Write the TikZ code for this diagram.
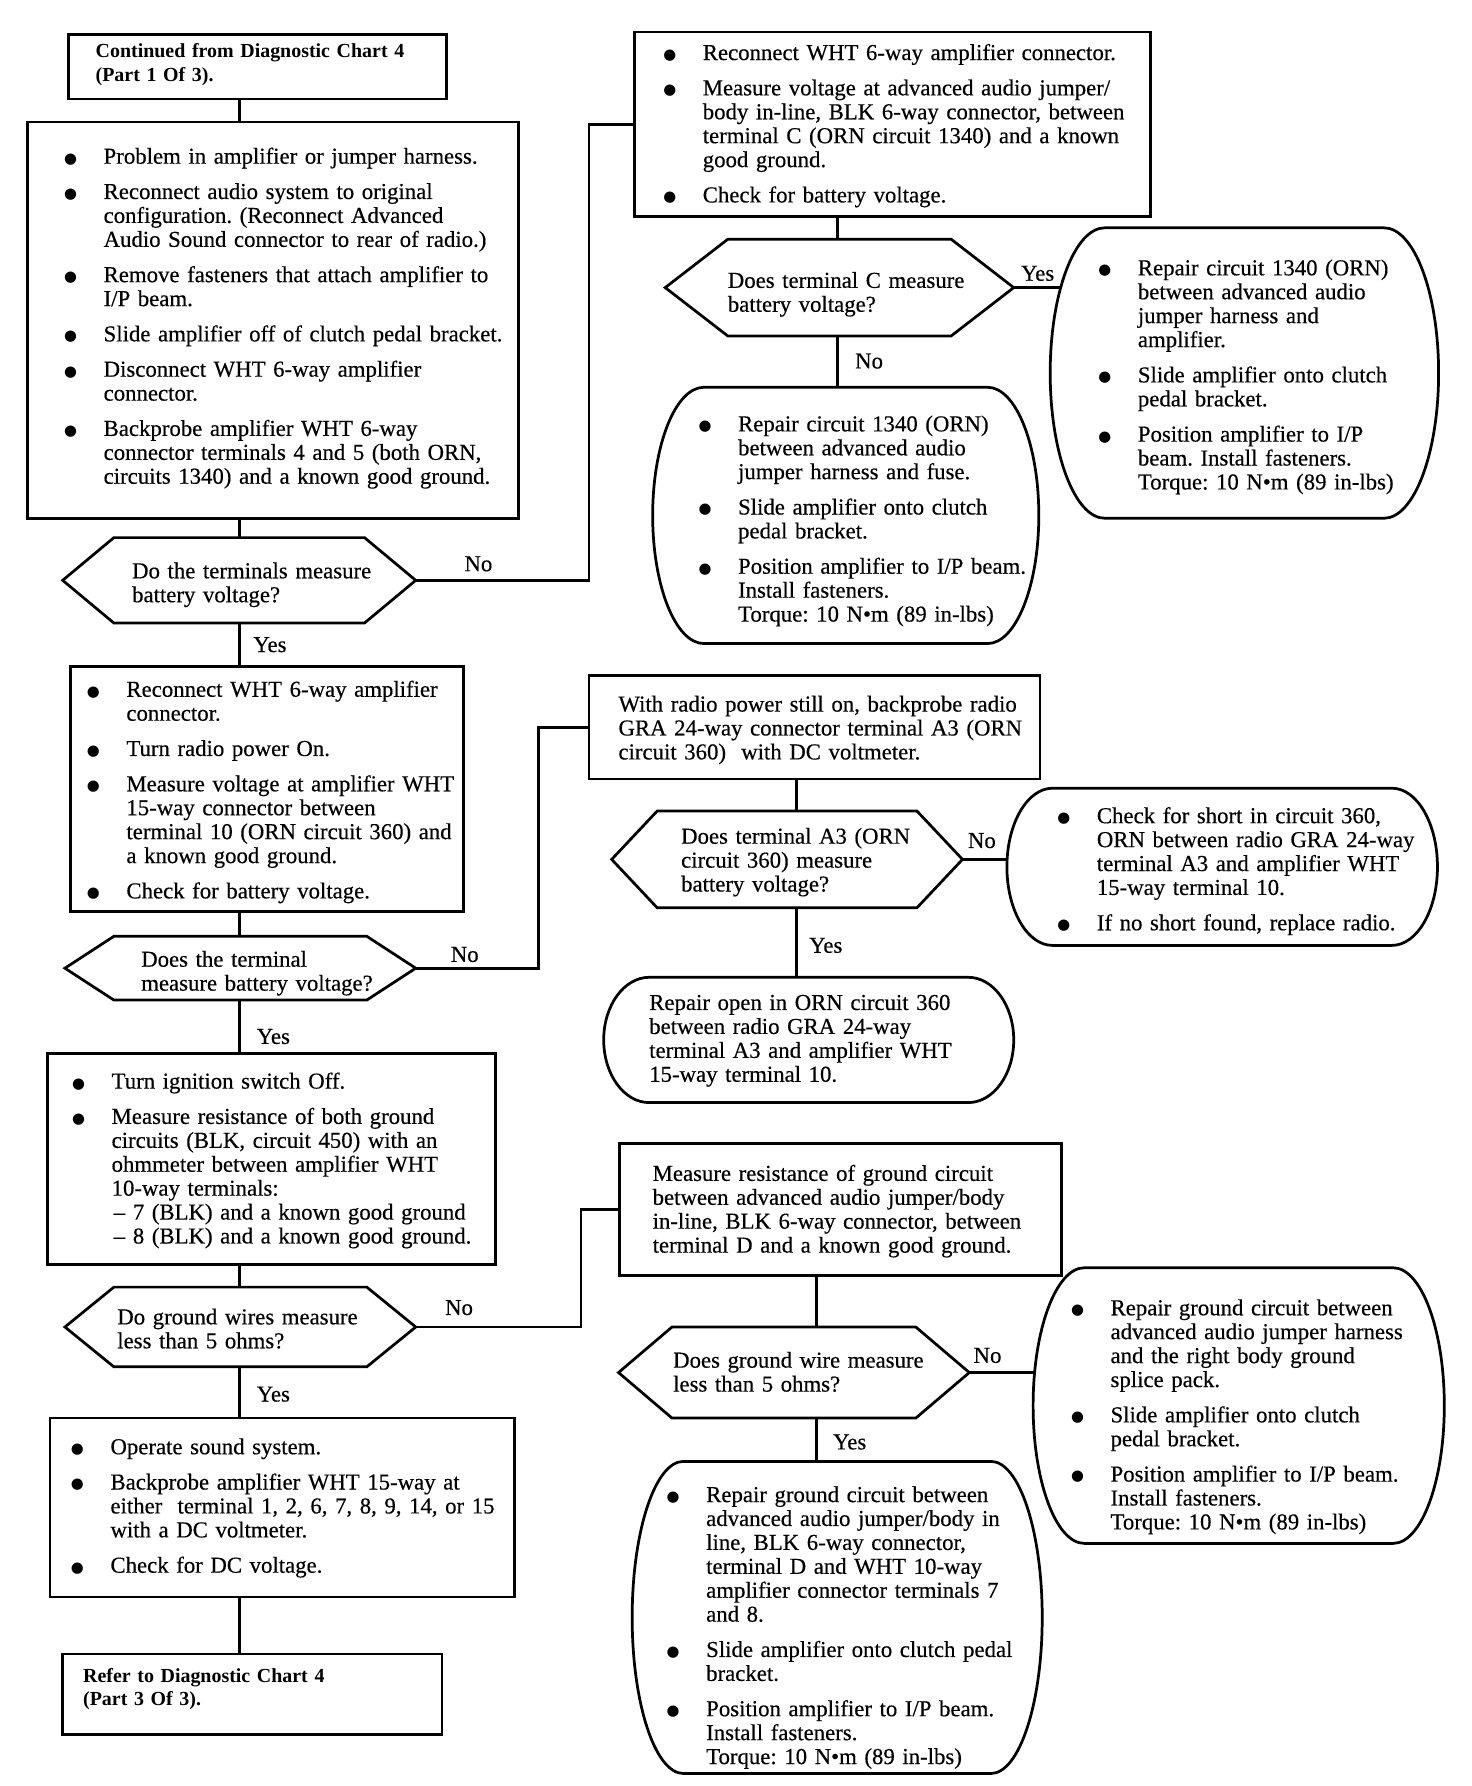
\documentclass[tikz,border=0pt]{standalone}
\usepackage{fontspec}
\setmainfont{Liberation Serif}[FakeBold=0.4, BoldFeatures={FakeBold=0}]
\newfontfamily\djv{DejaVu Sans}
\frenchspacing
\usetikzlibrary{calc}
\pgfdeclarelayer{bgw}
\pgfdeclarelayer{lines}
\pgfdeclarelayer{fills}
\pgfsetlayers{bgw,lines,fills,main}
\newlength\hi \setlength\hi{33pt}
\newcommand\bul{\makebox[\hi][l]{\makebox[8pt]{\raisebox{0.5pt}{\djv\fontsize{13}{13}\selectfont ●}}}\strut}
\newcommand\itm[1]{\ifvmode\noindent\fi\hangindent=\hi\hangafter=1\relax\bul{\let\\\newline#1}\par}
\tikzset{
 lw/.style={line width=2.4pt},
 box/.style={draw, lw, inner sep=0pt, outer sep=0pt},
 txt/.style={anchor=north west, inner sep=0pt, outer sep=0pt, text width=700pt,
   font=\fontsize{20}{21}\selectfont,
   execute at begin node={\raggedright\frenchspacing\setlength\parskip{10pt}\setlength\parindent{0pt}}},
 btxt/.style={txt, font=\fontsize{17.5}{21}\selectfont\bfseries},
 lab/.style={inner sep=0pt, font=\fontsize{20}{21}\selectfont},
 conn/.style={lw}
}
\newcommand\bx[5]{\node[box, minimum width={#4-#2}, minimum height={#5-#3}, anchor=north west] (#1) at (#2,-#3) {};}
\newcommand\hexa[6]{%
 \node[inner sep=0pt, outer sep=0pt, minimum width={#4-#2}, minimum height={#5-#3}, anchor=north west] (#1) at (#2,-#3) {};
 \draw[lw] (#1.west) -- ($(#1.north west)+(#6,0)$) -- ($(#1.north east)+(-#6,0)$) -- (#1.east)
   -- ($(#1.south east)+(-#6,0)$) -- ($(#1.south west)+(#6,0)$) -- cycle;}
\newcommand\barrel[6]{%
 \node[inner sep=0pt, outer sep=0pt, minimum width={#4-#2}, minimum height={#5-#3}, anchor=north west] (#1) at (#2,-#3) {};
 \begin{pgfonlayer}{fills}
 \draw[lw, fill=white] ($(#1.north west)+(#6,0)$) -- ($(#1.north east)+(-#6,0)$)
   .. controls ($(#1.north east)+(-0.448*#6,0)$) and ($(#1.north east)!0.448!(#1.east)$) .. (#1.east)
   .. controls ($(#1.south east)!0.448!(#1.east)$) and ($(#1.south east)+(-0.448*#6,0)$) .. ($(#1.south east)+(-#6,0)$)
   -- ($(#1.south west)+(#6,0)$)
   .. controls ($(#1.south west)+(0.448*#6,0)$) and ($(#1.south west)!0.448!(#1.west)$) .. (#1.west)
   .. controls ($(#1.north west)!0.448!(#1.west)$) and ($(#1.north west)+(0.448*#6,0)$) .. cycle;
 \end{pgfonlayer}}
\begin{document}
\begin{tikzpicture}[x=1pt, y=1pt]
\begin{pgfonlayer}{bgw}
\fill[white] (0,0) rectangle (1292,-1568);
\end{pgfonlayer}
\useasboundingbox (0,0) rectangle (1292,-1568);
% ---------- boxes
\bx{A}{60}{30}{392}{87}
\bx{B1}{24}{107}{455}{455}
\bx{B2}{557}{28}{1010}{190}
\bx{B3}{62}{585}{407}{800}
\bx{B4}{517}{593}{913}{684}
\bx{B5}{42}{925}{435}{1110}
\bx{B6}{544}{1004}{932}{1120}
\bx{B7}{44}{1245}{452}{1402}
\bx{X}{55}{1452}{388}{1523}
% ---------- decisions
\hexa{H1}{55}{472}{365}{547}{45}
\hexa{H2}{584}{210}{890}{295}{55}
\hexa{H3}{57}{822}{365}{878}{43}
\hexa{H4}{537}{712}{845}{797}{40}
\hexa{H5}{57}{1130}{365}{1200}{43}
\hexa{H6}{543}{1165}{851}{1245}{47}
% ---------- rounded results
\barrel{R1}{922}{200}{1263}{455}{48}
\barrel{R2}{573}{340}{912}{565}{45}
\barrel{R3}{884}{692}{1262}{830}{40}
\barrel{R4}{530}{858}{890}{968}{40}
\barrel{R5}{907}{1113}{1268}{1355}{45}
\barrel{R6}{555}{1283}{915}{1557}{45}
% ---------- helper coordinates
\coordinate (sp) at (210,0);
\coordinate (k1) at (517,0);
\coordinate (c2) at (735,0);
\coordinate (k3) at (473,0);
\coordinate (c4) at (699,0);
\coordinate (k5) at (510,0);
\coordinate (c6) at (717,0);
% ---------- texts
\node[btxt] (At) at (84,-36) {\strut Continued from Diagnostic Chart 4\\(Part 1 Of 3).};
\node[txt] (B1t) at (58,-129) {%
\itm{Problem in amplifier or jumper harness.}
\itm{Reconnect audio system to original\\configuration. (Reconnect Advanced\\Audio Sound connector to rear of radio.)}
\itm{Remove fasteners that attach amplifier to\\I/P beam.}
\itm{Slide amplifier off of clutch pedal bracket.}
\itm{Disconnect WHT 6-way amplifier\\connector.}
\itm{Backprobe amplifier WHT 6-way\\connector terminals 4 and 5 (both ORN,\\circuits 1340) and a known good ground.}};
\node[txt] (H1t) at (116,-493) {\strut Do the terminals measure\\battery voltage?};
\node[txt] (B2t) at (584,-38) {%
\itm{Reconnect WHT 6-way amplifier connector.}
\itm{Measure voltage at advanced audio jumper/\\body in-line, BLK 6-way connector, between\\terminal C (ORN circuit 1340) and a known\\good ground.}
\itm{Check for battery voltage.}};
\node[txt] (H2t) at (639,-238) {\strut Does terminal C measure\\battery voltage?};
\node[txt] (R1t) at (966,-227) {%
\itm{Repair circuit 1340 (ORN)\\between advanced audio\\jumper harness and\\amplifier.}
\itm{Slide amplifier onto clutch\\pedal bracket.}
\itm{Position amplifier to I/P\\beam. Install fasteners.\\Torque: 10 N•m (89 in-lbs)}};
\node[txt] (R2t) at (615,-364) {%
\itm{Repair circuit 1340 (ORN)\\between advanced audio\\jumper harness and fuse.}
\itm{Slide amplifier onto clutch\\pedal bracket.}
\itm{Position amplifier to I/P beam.\\Install fasteners.\\Torque: 10 N•m (89 in-lbs)}};
\node[txt] (B3t) at (78,-597) {%
\itm{Reconnect WHT 6-way amplifier\\connector.}
\itm{Turn radio power On.}
\itm{Measure voltage at amplifier WHT\\15-way connector between\\terminal 10 (ORN circuit 360) and\\a known good ground.}
\itm{Check for battery voltage.}};
\node[txt] (H3t) at (124,-834) {\strut Does the terminal\\measure battery voltage?};
\node[txt] (B4t) at (543,-610) {\strut With radio power still on, backprobe radio\\GRA 24-way connector terminal A3 (ORN\\circuit 360)\ \ with DC voltmeter.};
\node[txt] (H4t) at (598,-726) {\strut Does terminal A3 (ORN\\circuit 360) measure\\battery voltage?};
\node[txt] (R3t) at (930,-708) {%
\itm{Check for short in circuit 360,\\ORN between radio GRA 24-way\\terminal A3 and amplifier WHT\\15-way terminal 10.}
\itm{If no short found, replace radio.}};
\node[txt] (R4t) at (570,-872) {\strut Repair open in ORN circuit 360\\between radio GRA 24-way\\terminal A3 and amplifier WHT\\15-way terminal 10.};
\node[txt] (B5t) at (65,-941) {%
\itm{Turn ignition switch Off.}
\itm{Measure resistance of both ground\\circuits (BLK, circuit 450) with an\\ohmmeter between amplifier WHT\\10-way terminals:\\\hspace*{2pt}– 7 (BLK) and a known good ground\\\hspace*{2pt}– 8 (BLK) and a known good ground.}};
\node[txt] (H5t) at (103,-1148) {\strut Do ground wires measure\\less than 5 ohms?};
\node[txt] (B6t) at (573,-1022) {\strut Measure resistance of ground circuit\\between advanced audio jumper/body\\in-line, BLK 6-way connector, between\\terminal D and a known good ground.};
\node[txt] (H6t) at (591,-1186) {\strut Does ground wire measure\\less than 5 ohms?};
\node[txt] (R5t) at (942,-1140) {%
\itm{Repair ground circuit between\\advanced audio jumper harness\\and the right body ground\\splice pack.}
\itm{Slide amplifier onto clutch\\pedal bracket.}
\itm{Position amplifier to I/P beam.\\Install fasteners.\\Torque: 10 N•m (89 in-lbs)}};
\node[txt] (R6t) at (587,-1304) {%
\itm{Repair ground circuit between\\advanced audio jumper/body in\\line, BLK 6-way connector,\\terminal D and WHT 10-way\\amplifier connector terminals 7\\and 8.}
\itm{Slide amplifier onto clutch pedal\\bracket.}
\itm{Position amplifier to I/P beam.\\Install fasteners.\\Torque: 10 N•m (89 in-lbs)}};
\node[txt] (B7t) at (64,-1262) {%
\itm{Operate sound system.}
\itm{Backprobe amplifier WHT 15-way at\\either\ \ terminal 1, 2, 6, 7, 8, 9, 14, or 15\\with a DC voltmeter.}
\itm{Check for DC voltage.}};
\node[btxt] (Xt) at (73,-1462) {\strut Refer to Diagnostic Chart 4\\(Part 3 Of 3).};
% ---------- connectors
\begin{pgfonlayer}{lines}
\draw[conn] (A.south -| sp) -- (B1.north -| sp);
\draw[conn] (B1.south -| sp) -- (H1.north -| sp);
\draw[conn] (H1.east) -- (H1.east -| k1) -- (k1 |- B2.west) -- (B2.west);
\draw[conn] (B2.south -| c2) -- (H2.north -| c2);
\draw[conn] (H2.east) -- (H2.east -| R1.center);
\draw[conn] (H2.south -| c2) -- (R2.north -| c2);
\draw[conn] (H1.south -| sp) -- (B3.north -| sp);
\draw[conn] (B3.south -| sp) -- (H3.north -| sp);
\draw[conn] (H3.east) -- (H3.east -| k3) -- (k3 |- B4.west) -- (B4.west);
\draw[conn] (B4.south -| c4) -- (H4.north -| c4);
\draw[conn] (H4.east) -- (H4.east -| R3.center);
\draw[conn] (H4.south -| c4) -- (R4.north -| c4);
\draw[conn] (H3.south -| sp) -- (B5.north -| sp);
\draw[conn] (B5.south -| sp) -- (H5.north -| sp);
\draw[conn] (H5.east) -- (H5.east -| k5) -- (k5 |- B6.west) -- (B6.west);
\draw[conn] (B6.south -| c6) -- (H6.north -| c6);
\draw[conn] (H6.east) -- (H6.east -| R5.center);
\draw[conn] (H6.south -| c6) -- (R6.north -| c6);
\draw[conn] (H5.south -| sp) -- (B7.north -| sp);
\draw[conn] (B7.south -| sp) -- (X.north -| sp);
\end{pgfonlayer}
% ---------- labels
\node[lab] (l1) at (420,-495) {No};
\node[lab] (l2) at (911,-240) {Yes};
\node[lab] (l3) at (763,-317) {No};
\node[lab] (l4) at (237,-566) {Yes};
\node[lab] (l5) at (408,-838) {No};
\node[lab] (l6) at (862,-738) {No};
\node[lab] (l7) at (725,-830) {Yes};
\node[lab] (l8) at (240,-910) {Yes};
\node[lab] (l9) at (403,-1148) {No};
\node[lab] (l10) at (867,-1190) {No};
\node[lab] (l11) at (746,-1266) {Yes};
\node[lab] (l12) at (240,-1224) {Yes};
\end{tikzpicture}
\end{document}
